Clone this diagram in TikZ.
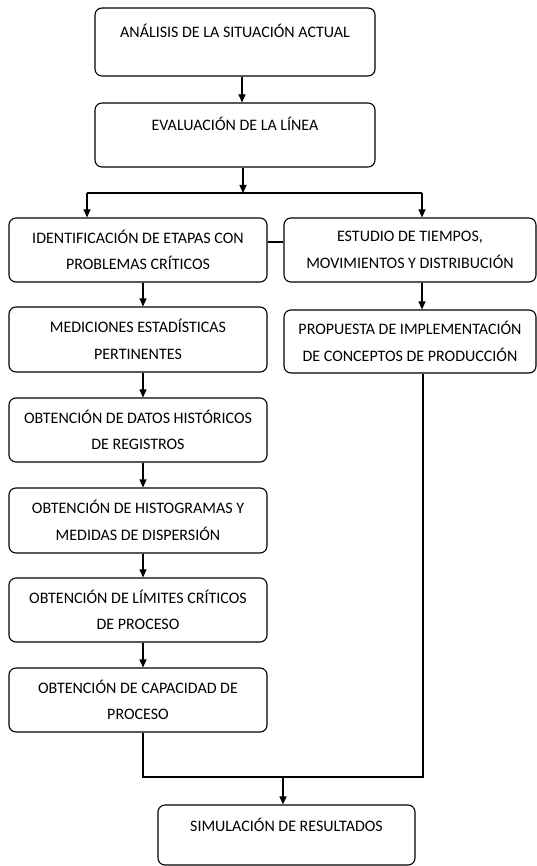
\documentclass[tikz,border=0pt]{standalone}
\usepackage{fontspec}
\setmainfont{Carlito}
\usetikzlibrary{arrows.meta}
\begin{document}
\begin{tikzpicture}[x=1pt,y=-1pt,
  box/.style={draw, line width=1.1pt, rounded corners=7pt, inner sep=0pt, align=center,
    font=\fontsize{16}{26.5}\selectfont},
  onebox/.style={box, text height=12pt, text depth=20pt},
  lbox/.style={box, minimum width=258pt, minimum height=64pt},
  rbox/.style={box, minimum width=252pt, minimum height=64pt},
  line/.style={line width=1.1pt},
  arr/.style={line, -{Triangle[length=8pt,width=7pt]}}
]
\useasboundingbox (0,0) rectangle (537,866);
% top boxes
\node[onebox, minimum width=280pt, minimum height=68pt] (b1) at (235,42) {ANÁLISIS DE LA SITUACIÓN ACTUAL};
\node[onebox, minimum width=280pt, minimum height=64pt] (b2) at (235,135) {EVALUACIÓN DE LA LÍNEA};
% left column
\node[lbox] (b3) at (138,250) {IDENTIFICACIÓN DE ETAPAS CON\\PROBLEMAS CRÍTICOS};
\node[lbox, minimum height=65pt] (b4) at (138,339.5) {MEDICIONES ESTADÍSTICAS\\PERTINENTES};
\node[lbox] (b5) at (138,430) {OBTENCIÓN DE DATOS HISTÓRICOS\\DE REGISTROS};
\node[lbox, minimum height=65pt] (b6) at (138,520.5) {OBTENCIÓN DE HISTOGRAMAS Y\\MEDIDAS DE DISPERSIÓN};
\node[lbox] (b7) at (138,610) {OBTENCIÓN DE LÍMITES CRÍTICOS\\DE PROCESO};
\node[lbox] (b8) at (138,700) {OBTENCIÓN DE CAPACIDAD DE\\PROCESO};
% right column
\node[rbox] (r1) at (410,250) {ESTUDIO DE TIEMPOS,\\MOVIMIENTOS Y DISTRIBUCIÓN};
\node[rbox, minimum height=63pt] (r2) at (410,341.5) {PROPUESTA DE IMPLEMENTACIÓN\\DE CONCEPTOS DE PRODUCCIÓN};
% final
\node[onebox, minimum width=257pt, minimum height=60pt] (b9) at (286.5,835) {SIMULACIÓN DE RESULTADOS};

% connectors
\draw[arr] ([xshift=7pt]b1.south) -- ([xshift=7pt]b1.south |- b2.north);
\coordinate (j1) at (243,193);
\coordinate (jl) at (87,193);
\coordinate (jr) at (422,193);
\draw[arr] ([xshift=8pt]b2.south) -- (j1);
\draw[line] (jl) -- (jr);
\draw[arr] (jl) -- (jl |- b3.north);
\draw[arr] (jr) -- (jr |- r1.north);
\draw[line] ([yshift=8pt]b3.east) -- ([yshift=8pt]b3.east -| r1.west);
\foreach \a/\b in {b3/b4,b4/b5,b5/b6,b6/b7,b7/b8}
  \draw[arr] ([xshift=5pt]\a.south) -- ([xshift=5pt]\a.south |- \b.north);
\draw[arr] ([xshift=12pt]r1.south) -- ([xshift=12pt]r1.south |- r2.north);
\coordinate (ml) at (143,777);
\coordinate (mr) at (423,777);
\coordinate (m) at (283,777);
\draw[line] ([xshift=5pt]b8.south) -- (ml) -- (mr) -- ([xshift=13pt]r2.south);
\draw[arr] (m) -- (m |- b9.north);
\end{tikzpicture}
\end{document}
